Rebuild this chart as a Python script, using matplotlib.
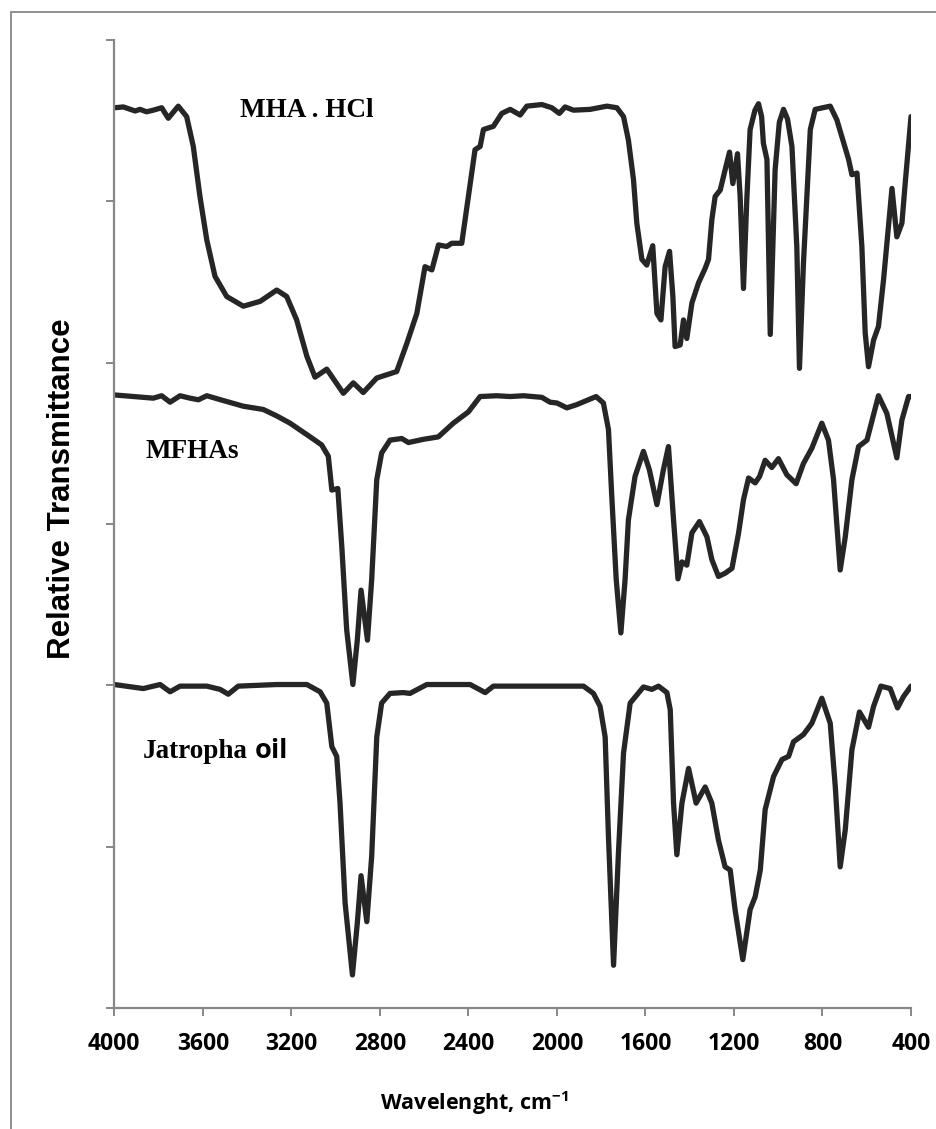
import numpy as np
import matplotlib
matplotlib.use("Agg")
import matplotlib.pyplot as plt
from matplotlib.patches import Rectangle

# wavenumber (cm-1) / relative transmittance
mha_wn = [4000, 3959, 3906, 3884, 3854, 3824, 3786, 3756, 3711, 3673, 3643, 3613, 3582, 3545,
          3492, 3417, 3341, 3266, 3221, 3176, 3130, 3093, 3040, 2965, 2920, 2875, 2814, 2769,
          2724, 2678, 2633, 2596, 2565, 2535, 2498, 2475, 2430, 2400, 2370, 2347, 2332, 2287,
          2249, 2211, 2166, 2136, 2068, 2023, 1989, 1963, 1925, 1850, 1774, 1729, 1699, 1677,
          1654, 1639, 1616, 1594, 1567, 1548, 1530, 1511, 1491, 1476, 1466, 1443, 1428, 1413,
          1390, 1360, 1330, 1315, 1300, 1285, 1262, 1240, 1220, 1205, 1184, 1172, 1157, 1142,
          1127, 1105, 1089, 1075, 1067, 1051, 1036, 1014, 995, 976, 958, 938, 916, 904, 886,
          855, 833, 765, 735, 682, 667, 644, 622, 607, 592, 569, 547, 524, 486, 464, 441, 426, 400]
mha_t = [111.6, 111.7, 111.2, 111.4, 111.1, 111.3, 111.6, 110.3, 111.8, 110.5, 106.8, 100.6, 95.2, 90.7,
         88.2, 87.0, 87.6, 89.0, 88.2, 85.3, 80.8, 78.2, 79.2, 76.2, 77.5, 76.3, 78.1, 78.5,
         78.9, 82.4, 86.1, 91.9, 91.5, 94.6, 94.4, 94.8, 94.8, 100.6, 106.4, 106.8, 108.9, 109.3,
         110.9, 111.4, 110.7, 111.8, 112.0, 111.6, 110.9, 111.7, 111.3, 111.4, 111.8, 111.6, 110.5, 107.6,
         102.7, 97.3, 92.8, 92.1, 94.5, 86.1, 85.3, 91.9, 93.8, 88.2, 82.0, 82.2, 85.3, 83.0,
         87.4, 89.9, 91.7, 92.8, 97.7, 100.6, 101.4, 103.9, 106.1, 102.2, 105.9, 100.6, 89.2, 100.2,
         108.9, 111.3, 112.1, 110.5, 107.2, 105.2, 83.5, 103.9, 109.8, 111.4, 110.2, 106.8, 94.4, 79.3, 92.3,
         108.9, 111.4, 111.8, 110.1, 105.2, 103.3, 103.5, 94.4, 83.7, 79.5, 82.8, 84.5, 90.3, 101.6,
         95.6, 97.3, 102.3, 110.5]

mfha_wn = [4000, 3824, 3786, 3748, 3703, 3658, 3620, 3582, 3507, 3417, 3327, 3266, 3206, 3115,
           3063, 3033, 3017, 2990, 2972, 2950, 2922, 2902, 2885, 2856, 2837, 2814, 2792, 2754,
           2701, 2671, 2603, 2536, 2468, 2400, 2347, 2272, 2211, 2151, 2068, 2031, 2000, 1955,
           1910, 1823, 1790, 1767, 1752, 1732, 1711, 1692, 1677, 1647, 1609, 1582, 1548, 1519,
           1496, 1473, 1453, 1435, 1413, 1390, 1356, 1322, 1300, 1270, 1240, 1209, 1179, 1157,
           1134, 1104, 1084, 1059, 1029, 999, 961, 919, 886, 848, 803, 773, 750, 720, 697, 667,
           637, 599, 547, 509, 464, 441, 411, 400]
mfha_t = [76.0, 75.6, 75.9, 75.1, 75.9, 75.6, 75.4, 75.9, 75.3, 74.6, 74.2, 73.4, 72.5, 70.8,
          69.8, 68.4, 64.2, 64.4, 57.2, 46.9, 40.1, 45.6, 51.8, 45.6, 53.1, 65.5, 68.8, 70.4,
          70.6, 70.1, 70.5, 70.8, 72.5, 73.9, 75.8, 75.9, 75.8, 75.9, 75.7, 75.1, 75.0, 74.4,
          74.8, 75.8, 75.0, 71.7, 63.4, 53.1, 46.5, 53.1, 60.5, 65.9, 69.0, 66.7, 62.4, 66.7,
          69.6, 60.5, 53.2, 55.3, 54.9, 58.9, 60.3, 58.4, 55.6, 53.5, 53.9, 54.5, 58.9, 63.0,
          65.7, 65.1, 65.9, 67.9, 67.0, 68.1, 66.1, 65.0, 67.5, 69.4, 72.5, 70.4, 65.5, 54.3, 58.4, 65.5,
          69.6, 70.4, 75.9, 73.7, 68.2, 72.9, 75.8, 75.8]

jat_wn = [4000, 3869, 3793, 3748, 3703, 3582, 3522, 3485, 3440, 3266, 3130, 3070, 3040, 3017,
          2995, 2980, 2957, 2924, 2902, 2885, 2859, 2837, 2814, 2792, 2754, 2694, 2664, 2588,
          2392, 2324, 2287, 2211, 1880, 1835, 1805, 1782, 1767, 1744, 1722, 1699, 1669, 1609,
          1571, 1541, 1503, 1488, 1473, 1458, 1435, 1405, 1371, 1330, 1300, 1270, 1240, 1217,
          1195, 1160, 1127, 1104, 1081, 1059, 1021, 983, 953, 931, 886, 848, 803, 765, 742, 720,
          697, 667, 633, 592, 569, 536, 494, 461, 434, 400]
jat_t = [40.1, 39.6, 40.1, 39.2, 39.9, 39.9, 39.5, 38.9, 39.9, 40.1, 40.1, 39.2, 37.8, 32.4,
         31.2, 25.4, 13.0, 4.1, 10.5, 16.4, 10.7, 18.8, 33.6, 37.8, 39.0, 39.1, 39.0, 40.1,
         40.1, 39.1, 39.9, 39.9, 39.9, 39.0, 37.4, 33.6, 21.2, 5.3, 19.2, 31.6, 37.8, 39.8,
         39.5, 39.9, 39.1, 37.0, 25.4, 19.0, 25.4, 29.7, 25.4, 27.4, 25.4, 20.8, 17.5, 17.1,
         12.2, 6.0, 12.2, 13.8, 17.1, 24.6, 28.7, 30.8, 31.2, 33.0, 33.9, 35.3, 38.4, 35.3, 27.4, 17.5,
         22.1, 32.0, 36.7, 34.8, 37.4, 39.9, 39.6, 37.2, 38.6, 39.9]

x_ticks = [4000, 3600, 3200, 2800, 2400, 2000, 1600, 1200, 800, 400]

sans_bold = ["Open Sans", "DejaVu Sans"]
plt.rcParams["mathtext.fontset"] = "custom"
plt.rcParams["mathtext.bf"] = "Open Sans:bold"

fig = plt.figure(figsize=(9.36, 11.29), dpi=100)
ax = fig.add_axes([114.3 / 936, 121 / 1129, (911 - 114.3) / 936, 968 / 1129])

line_col = "#262626"
for wn, t in [(mha_wn, mha_t), (mfha_wn, mfha_t), (jat_wn, jat_t)]:
    ax.plot(wn, t, color=line_col, lw=3.8, solid_joinstyle="round", solid_capstyle="round")

ax.set_xlim(4000, 400)
ax.set_ylim(0, 120)
ax.set_xticks(x_ticks)
ax.set_xticklabels([str(v) for v in x_ticks], fontfamily=sans_bold, fontweight="bold", fontsize=16.5)
ax.set_yticks(np.arange(0, 121, 20))
ax.set_yticklabels([])

grey = "#878787"
for s in ["top", "right"]:
    ax.spines[s].set_visible(False)
for s in ["left", "bottom"]:
    ax.spines[s].set_color(grey)
    ax.spines[s].set_linewidth(1.6)
ax.tick_params(axis="both", direction="out", length=6, width=1.4, color=grey, pad=11)

ax.set_xlabel("Wavelenght, cm$^{\\mathbf{-1}}$", fontfamily=sans_bold, fontweight="bold",
              fontsize=15.5)
ax.xaxis.set_label_coords((475 - 114.3) / 797, -(1103 - 1008) / 968)
ax.set_ylabel("Relative Transmittance", fontfamily="Liberation Sans", fontweight="bold",
              fontsize=22.5)
ax.yaxis.set_label_coords((62 - 114.3) / 797, (1008 - 489) / 968)
ax.xaxis.label.set_va("center")
ax.yaxis.label.set_va("center")

serif = dict(fontfamily="Liberation Serif", fontweight="bold", fontsize=19.5)
ax.text(3432, 110.4, "MHA . HCl", va="baseline", ha="left", **serif)
ax.text(3857, 68.2, "MFHAs", va="baseline", ha="left", **serif)
ax.text(3872, 31.0, "Jatropha", va="baseline", ha="left", **serif)
ax.text(3364, 31.0, "oil", va="baseline", ha="left", fontfamily=sans_bold,
        fontweight="bold", fontsize=19.5)

fig.patches.append(Rectangle((11 / 936, -0.1), 1.2, 1.1 - 12 / 1129, transform=fig.transFigure,
                             fill=False, edgecolor=grey, lw=1.3))

fig.savefig("out.png", dpi=100)
